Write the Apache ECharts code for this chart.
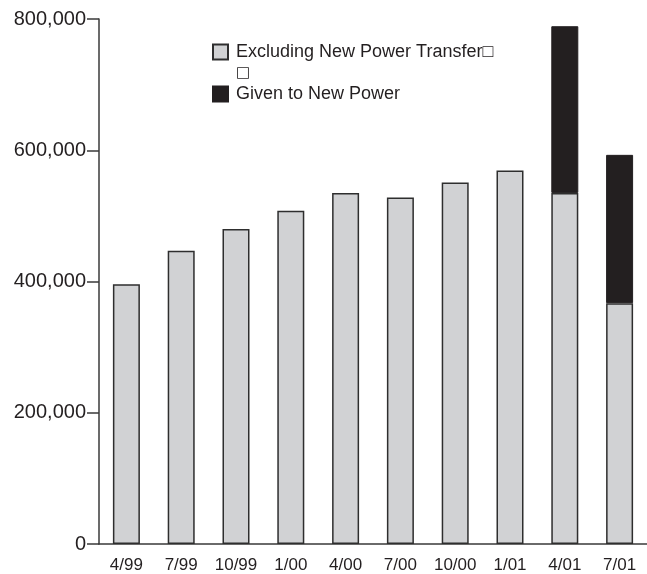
<!DOCTYPE html>
<html lang="en">
<head>
    <meta charset="UTF-8" />
    <title>New Power chart</title>
    <style>
      html, body { margin: 0; padding: 0; background: #fff; }
    </style>
</head>
<body>
<!-- chart -->
<div id="main" style="width: 647px; height: 574px"></div>
<script src="https://cdn.jsdelivr.net/npm/echarts@6/dist/echarts.min.js"></script>
<script>
  // quarters on the x axis
  var quarters = ["4/99", "7/99", "10/99", "1/00", "4/00", "7/00", "10/00", "1/01", "4/01", "7/01"];
  // grey part of each bar
  var excluding = [396000, 447000, 480000, 508000, 535000, 528000, 551000, 569000, 535000, 367000];
  // black part, only the last two quarters
  var givenToNewPower = [0, 0, 0, 0, 0, 0, 0, 0, 254000, 226000];
  var yTicks = [0, 200000, 400000, 600000, 800000];

  var seriesNames = ["Excluding New Power Transfer\u25a1", "Given to New Power"];

  var myChart = echarts.init(document.getElementById("main"));

  var option = {
    animation: false,
    textStyle: { fontFamily: "Liberation Sans, Arial, sans-serif", color: "#231f20" },
    grid: { left: 99, top: 19, width: 553, height: 530 },
    legend: {
      orient: "vertical",
      left: 207,
      top: 38,
      itemWidth: 15,
      itemHeight: 15,
      itemGap: 24,
      icon: "rect",
      textStyle: { fontSize: 18, color: "#231f20", padding: [0, 0, 0, 3] },
      data: seriesNames
    },
    graphic: [
      {
        // the stray second line of the first legend entry
        type: "text",
        left: 236,
        top: 66,
        style: { text: "\u25a1", font: "15px DejaVu Sans", fill: "#231f20" }
      }
    ],
    xAxis: {
      type: "category",
      data: quarters,
      axisLine: { lineStyle: { color: "#3a3a3a", width: 1.5 } },
      axisTick: { show: false },
      axisLabel: { interval: 0, fontSize: 17, color: "#231f20", margin: 13 }
    },
    yAxis: {
      type: "value",
      min: yTicks[0],
      max: yTicks[yTicks.length - 1],
      interval: 200000,
      splitLine: { show: false },
      axisLine: { show: true, lineStyle: { color: "#3a3a3a", width: 1.5 } },
      axisTick: { show: true, length: 12, lineStyle: { color: "#3a3a3a", width: 1.5 } },
      axisLabel: {
        fontSize: 20,
        color: "#231f20",
        margin: 13,
        formatter: function (v) { return v.toLocaleString("en-US"); }
      }
    },
    series: [
      {
        name: seriesNames[0],
        type: "bar",
        stack: "total",
        barWidth: 27,
        data: excluding,
        itemStyle: { color: "#d1d2d4", borderColor: "#2e2e2e", borderWidth: 1.5 }
      },
      {
        name: seriesNames[1],
        type: "bar",
        stack: "total",
        barWidth: 27,
        data: givenToNewPower.map(function (v) { return v === 0 ? null : v; }),
        itemStyle: { color: "#231f20", borderColor: "#231f20", borderWidth: 1 }
      }
    ]
  };
  myChart.setOption(option);
</script>
</body>
</html>
